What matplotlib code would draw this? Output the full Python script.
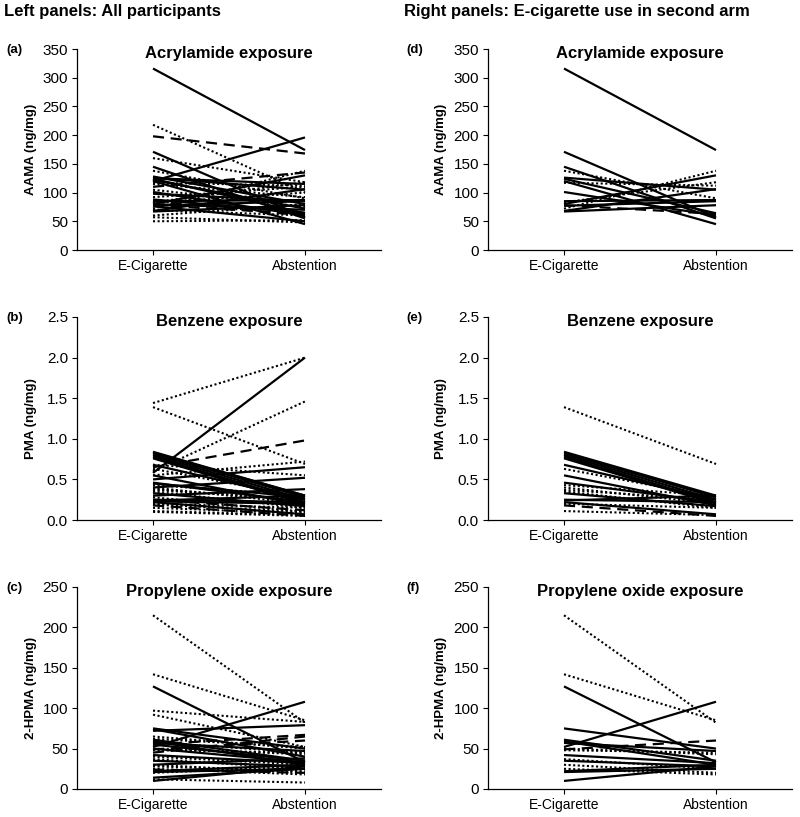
import numpy as np
import matplotlib.pyplot as plt

plt.rcParams['font.family'] = ['Liberation Sans', 'DejaVu Sans']

arms = ['E-Cigarette', 'Abstention']

# participant group code -> drawn as solid / dotted / dashed
# 1 = solid, 2 = dotted, 3 = dashed

# --- AAMA (acrylamide), ng/mg ---
# e-cigarette use in second arm (right panels)
aama_ecig_2 = [316, 171, 145, 138, 126, 124, 120, 117, 101, 85, 83, 80, 78, 77, 72, 68, 67]
aama_abst_2 = [174, 57, 55, 90, 105, 64, 45, 112, 60, 87, 118, 130, 63, 85, 138, 106, 78]
aama_grp_2 = [1, 1, 1, 2, 1, 1, 1, 2, 1, 1, 2, 1, 3, 1, 2, 1, 1]
# e-cigarette use in first arm
aama_ecig_1 = [218, 198, 120, 160, 128, 122, 115, 110, 105, 98, 92, 88, 82, 80, 76, 70, 60, 57, 50, 85, 125]
aama_abst_1 = [100, 168, 196, 118, 80, 72, 92, 135, 75, 85, 110, 65, 100, 70, 50, 60, 80, 48, 52, 60, 115]
aama_grp_1 = [2, 3, 1, 2, 1, 1, 2, 3, 2, 1, 2, 1, 2, 1, 1, 2, 2, 2, 2, 3, 1]

# --- PMA (benzene), ng/mg ---
pma_ecig_2 = [1.39, 0.84, 0.82, 0.80, 0.78, 0.76, 0.68, 0.63, 0.55, 0.46, 0.43, 0.40, 0.37, 0.35, 0.33, 0.25, 0.24, 0.22, 0.20, 0.18, 0.11]
pma_abst_2 = [0.69, 0.30, 0.28, 0.25, 0.22, 0.20, 0.25, 0.28, 0.18, 0.22, 0.30, 0.20, 0.25, 0.15, 0.17, 0.22, 0.30, 0.07, 0.15, 0.05, 0.06]
pma_grp_2 = [2, 1, 1, 1, 1, 1, 1, 2, 1, 1, 2, 2, 2, 2, 1, 1, 1, 1, 2, 3, 2]
pma_ecig_1 = [1.44, 0.58, 0.60, 0.65, 0.55, 0.50, 0.40, 0.68, 0.30, 0.28, 0.15, 0.25, 0.10, 0.45, 0.38, 0.83, 0.23, 0.19]
pma_abst_1 = [2.00, 2.00, 1.46, 0.98, 0.72, 0.65, 0.52, 0.55, 0.38, 0.10, 0.08, 0.12, 0.05, 0.28, 0.25, 0.30, 0.20, 0.10]
pma_grp_1 = [2, 1, 2, 3, 2, 1, 1, 2, 1, 2, 2, 3, 2, 1, 2, 1, 1, 2]

# --- 2-HPMA (propylene oxide), ng/mg ---
hpma_ecig_2 = [215, 142, 127, 75, 52, 61, 59, 57, 49, 50, 48, 42, 37, 35, 30, 25, 22, 21, 10]
hpma_abst_2 = [82, 85, 33, 50, 108, 35, 30, 47, 60, 43, 45, 32, 25, 28, 20, 18, 30, 25, 28]
hpma_grp_2 = [2, 2, 1, 1, 1, 1, 1, 1, 3, 2, 2, 1, 2, 1, 2, 2, 1, 1, 1]
hpma_ecig_1 = [97, 92, 72, 74, 55, 65, 58, 55, 40, 30, 28, 24, 20, 12, 14, 50, 45, 62]
hpma_abst_1 = [83, 52, 79, 40, 67, 50, 45, 35, 30, 38, 22, 20, 28, 8, 25, 33, 65, 52]
hpma_grp_1 = [2, 2, 1, 1, 3, 2, 2, 1, 2, 1, 2, 3, 2, 2, 1, 1, 3, 2]

line_style = {1: dict(ls='-', lw=1.6),
              2: dict(ls=(0, (1, 1.2)), lw=1.5),
              3: dict(ls=(0, (5, 3)), lw=1.6)}

rows = [
    ('Acrylamide exposure', 'AAMA (ng/mg)', 350, 50, '{:.0f}',
     (aama_ecig_1, aama_abst_1, aama_grp_1), (aama_ecig_2, aama_abst_2, aama_grp_2)),
    ('Benzene exposure', 'PMA (ng/mg)', 2.5, 0.5, '{:.1f}',
     (pma_ecig_1, pma_abst_1, pma_grp_1), (pma_ecig_2, pma_abst_2, pma_grp_2)),
    ('Propylene oxide exposure', '2-HPMA (ng/mg)', 250, 50, '{:.0f}',
     (hpma_ecig_1, hpma_abst_1, hpma_grp_1), (hpma_ecig_2, hpma_abst_2, hpma_grp_2)),
]
letters = [['(a)', '(d)'], ['(b)', '(e)'], ['(c)', '(f)']]

W, H = 800, 817
fig = plt.figure(figsize=(W / 100, H / 100), dpi=100)

col_left = [77, 488]
col_w = 304
label_x = [37, 447]
row_top = [49, 317, 587]
row_bot = [250, 520, 789]


def draw_pairs(ax, ecig, abst, grp):
    for a, b, g in zip(ecig, abst, grp):
        ax.plot([1, 2], [a, b], color='black', solid_capstyle='butt',
                dash_capstyle='butt', **line_style[g])


for r, (title, ylabel, ymax, ystep, fmt, first, second) in enumerate(rows):
    for c in range(2):
        x0 = col_left[c]
        ax = fig.add_axes([x0 / W, 1 - row_bot[r] / H, col_w / W,
                           (row_bot[r] - row_top[r]) / H])
        if c == 0:
            draw_pairs(ax, *first)
        draw_pairs(ax, *second)

        ax.set_xlim(0.5, 2.5)
        ax.set_ylim(0, ymax)
        ticks = np.arange(0, ymax + ystep / 2, ystep)
        ax.set_yticks(ticks)
        ax.set_yticklabels([fmt.format(t) for t in ticks])
        ax.set_xticks([1, 2])
        ax.set_xticklabels(arms)
        ax.tick_params(axis='both', direction='out', length=3.5, width=0.8,
                       colors='black', pad=3)
        ax.tick_params(axis='y', labelsize=11)
        ax.tick_params(axis='x', labelsize=10)
        for s in ['top', 'right']:
            ax.spines[s].set_visible(False)
        for s in ['left', 'bottom']:
            ax.spines[s].set_linewidth(0.9)

        ax.set_ylabel(ylabel, fontsize=9.5, fontweight='bold')
        ax.yaxis.set_label_coords((label_x[c] - x0) / col_w, 0.5)

        ax.text(0.5, 1 - 9 / (row_bot[r] - row_top[r]), title, transform=ax.transAxes,
                ha='center', va='baseline', fontsize=12, fontweight='bold')

        lx = 6 if c == 0 else 406
        fig.text(lx / W, 1 - (row_top[r] + 4) / H, letters[r][c], ha='left',
                 va='baseline', fontsize=9.5, fontweight='bold')

fig.text(4 / W, 1 - 16 / H, 'Left panels: All participants', ha='left',
         va='baseline', fontsize=12, fontweight='bold')
fig.text(404 / W, 1 - 16 / H, 'Right panels: E-cigarette use in second arm', ha='left',
         va='baseline', fontsize=12, fontweight='bold')

fig.savefig('out.png', dpi=100, facecolor='white')
